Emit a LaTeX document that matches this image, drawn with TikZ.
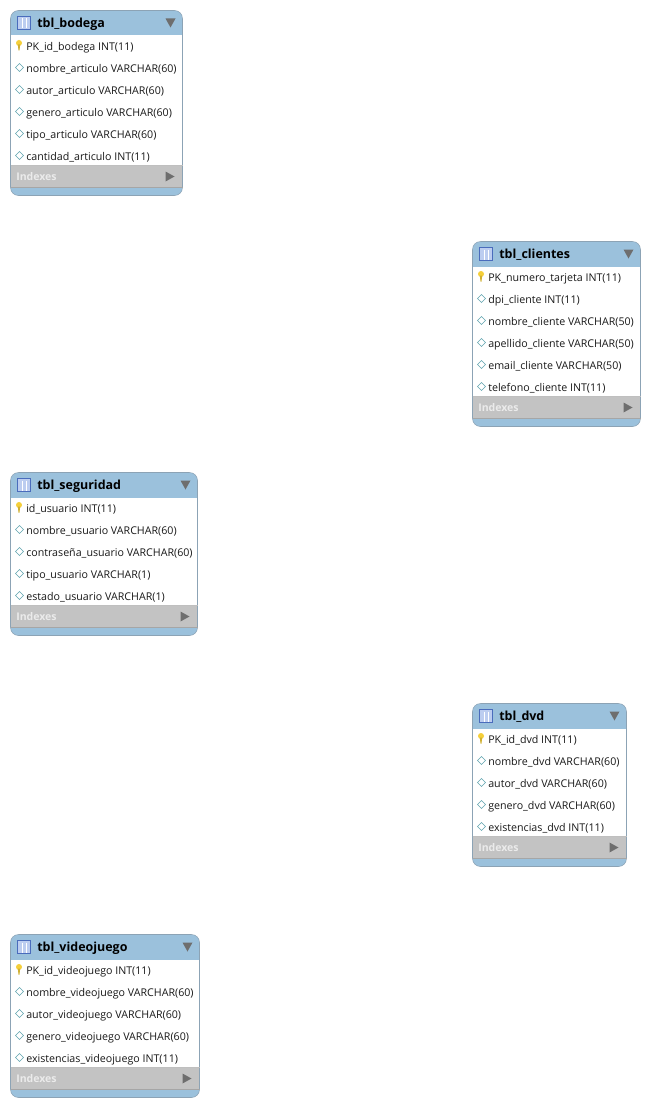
\documentclass[tikz,border=0pt]{standalone}
\usepackage{fontspec}
\setmainfont{Open Sans}
\usepackage{tikz}
\usetikzlibrary{positioning, shapes.geometric}

\definecolor{headblue}{HTML}{9BC1DC}
\definecolor{idxgray}{HTML}{C3C3C3}
\definecolor{edgegray}{HTML}{8CA3B5}
\definecolor{arrowgray}{HTML}{6E6E6E}
\definecolor{iconblue}{HTML}{4A6CBC}
\definecolor{iconfill}{HTML}{BCCDF0}
\definecolor{keyyellow}{HTML}{F5CF3A}
\definecolor{difftea}{HTML}{5FA3AE}

\tikzset{
  tabletitle/.style={anchor=west, inner sep=0pt, font=\fontsize{9.35}{11}\selectfont\bfseries, text=black},
  tablerow/.style={anchor=west, inner sep=0pt, font=\fontsize{8}{10}\selectfont, text=black!90},
  tableidx/.style={anchor=west, inner sep=0pt, font=\fontsize{7.9}{10}\selectfont\bfseries, text=white!92!black},
}

% #1 name, #2 left, #3 top, #4 width, #5 number of rows, #6 title, #7 rows
\newcommand{\dbtable}[7]{
  \pgfmathsetmacro{\xr}{#2+#4}
  \pgfmathsetmacro{\yh}{#3+25}
  \pgfmathsetmacro{\yi}{\yh+22*#5-2}
  \pgfmathsetmacro{\yf}{\yi+22}
  \pgfmathsetmacro{\yb}{\yf+8}
  \begin{scope}
    \clip [rounded corners=6] (#2,#3) rectangle (\xr,\yb);
    \fill [headblue] (#2,#3) rectangle (\xr,\yh);
    \fill [white] (#2,\yh) rectangle (\xr,\yi);
    \fill [idxgray] (#2,\yi) rectangle (\xr,\yf);
    \fill [headblue] (#2,\yf) rectangle (\xr,\yb);
  \end{scope}
  \draw [edgegray, rounded corners=6] (#2,#3) rectangle (\xr,\yb);
  \draw [black!25] (#2,\yi) -- (\xr,\yi);
  \draw [black!35] (#2,\yf) -- (\xr,\yf);
  % table icon
  \fill [iconfill, draw=iconblue, line width=0.7pt] (#2+7,#3+6) rectangle (#2+20,#3+19);
  \draw [white] (#2+11.5,#3+8) -- (#2+11.5,#3+18) (#2+15.5,#3+8) -- (#2+15.5,#3+18);
  \node [tabletitle] (#1title) at (#2+26.5,#3+13.5) {#6};
  % collapse arrows
  \fill [arrowgray] (\xr-17,#3+8) -- (\xr-7,#3+8) -- (\xr-12,#3+17) -- cycle;
  \fill [arrowgray] (\xr-17,\yi+6) -- (\xr-8,\yi+11) -- (\xr-17,\yi+16) -- cycle;
  % rows
  \foreach \rowtext [count=\r from 0] in {#7} {
    \pgfmathsetmacro{\yr}{\yh+11+22*\r}
    \node [tablerow] (#1row\r) at (#2+15.5,\yr+1) {\rowtext};
    \ifnum\r=0
      \fill [keyyellow] (#2+8.5,\yr-3.5) circle (3);
      \fill [keyyellow!85!black] (#2+7.3,\yr-2) -- (#2+9.7,\yr-2) -- (#2+9,\yr+4) -- (#2+8,\yr+4) -- cycle;
    \else
      \draw [difftea, fill=white] (#2+5,\yr-1) -- (#2+9,\yr-5) -- (#2+13,\yr-1) -- (#2+9,\yr+3) -- cycle;
    \fi
  }
  \node [tableidx] (#1idx) at (#2+5.5,\yi+11) {Indexes};
}

\begin{document}
\begin{tikzpicture}[x=0.75pt, y=-0.75pt]

\useasboundingbox (0,0) rectangle (650,1106);

% tables
\dbtable{bodega}{10.5}{10.5}{172}{6}{tbl\_bodega}{
  PK\_id\_bodega INT(11),
  nombre\_articulo VARCHAR(60),
  autor\_articulo VARCHAR(60),
  genero\_articulo VARCHAR(60),
  tipo\_articulo VARCHAR(60),
  cantidad\_articulo INT(11)}

\dbtable{clientes}{472.5}{241.5}{168}{6}{tbl\_clientes}{
  PK\_numero\_tarjeta INT(11),
  dpi\_cliente INT(11),
  nombre\_cliente VARCHAR(50),
  apellido\_cliente VARCHAR(50),
  email\_cliente VARCHAR(50),
  telefono\_cliente INT(11)}

\dbtable{seguridad}{10.5}{472.5}{187}{5}{tbl\_seguridad}{
  id\_usuario INT(11),
  nombre\_usuario VARCHAR(60),
  contraseña\_usuario VARCHAR(60),
  tipo\_usuario VARCHAR(1),
  estado\_usuario VARCHAR(1)}

\dbtable{dvd}{472.5}{703.5}{154}{5}{tbl\_dvd}{
  PK\_id\_dvd INT(11),
  nombre\_dvd VARCHAR(60),
  autor\_dvd VARCHAR(60),
  genero\_dvd VARCHAR(60),
  existencias\_dvd INT(11)}

\dbtable{videojuego}{10.5}{934.5}{189}{5}{tbl\_videojuego}{
  PK\_id\_videojuego INT(11),
  nombre\_videojuego VARCHAR(60),
  autor\_videojuego VARCHAR(60),
  genero\_videojuego VARCHAR(60),
  existencias\_videojuego INT(11)}

\end{tikzpicture}
\end{document}
